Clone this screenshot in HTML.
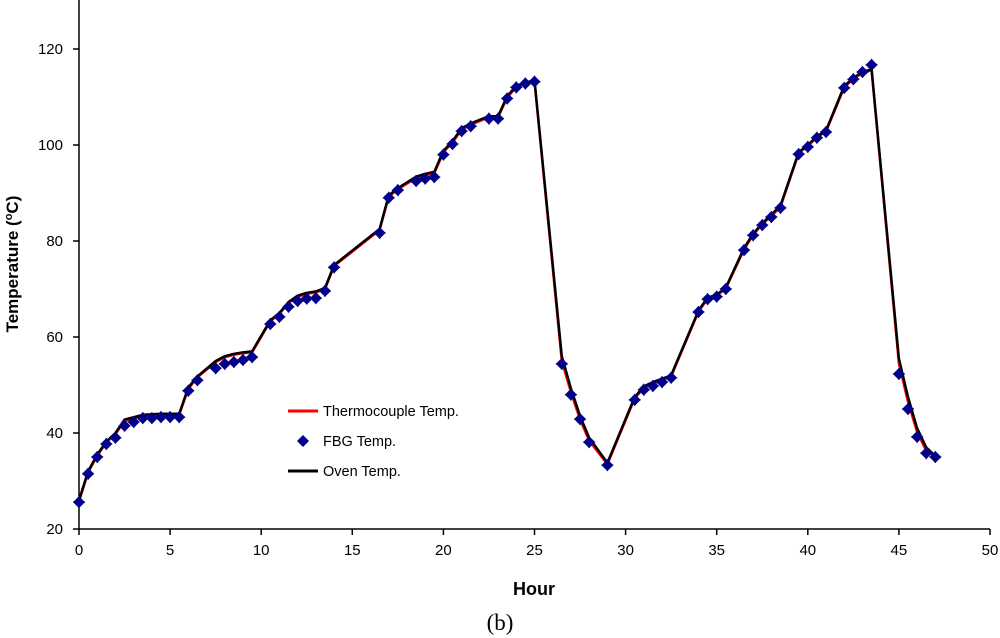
<!DOCTYPE html>
<html><head><meta charset="utf-8"><style>
body{margin:0;background:#fff;}
svg{display:block;font-family:"Liberation Sans",sans-serif;}
</style></head><body>
<svg id="chart" width="1000" height="638" viewBox="0 0 1000 638">
<g id="axes"></g>
<g id="series"></g>
<g>
<line x1="288" y1="411" x2="318" y2="411" stroke="#f00" stroke-width="3"/>
<text x="323" y="416" font-size="14.5">Thermocouple Temp.</text>
<path d="M303 435 L309 441 L303 447 L297 441 Z" fill="#00008b"/>
<text x="323" y="446" font-size="14.5">FBG Temp.</text>
<line x1="288" y1="471" x2="318" y2="471" stroke="#000" stroke-width="3"/>
<text x="323" y="476" font-size="14.5">Oven Temp.</text>
</g>
<text x="534" y="595" font-size="18" font-weight="bold" text-anchor="middle">Hour</text>
<text transform="translate(18,264) rotate(-90)" font-size="17" font-weight="bold" text-anchor="middle">Temperature (<tspan font-size="11" dy="-6">o</tspan><tspan dy="6">C)</tspan></text>
<text x="500" y="630" font-size="23" text-anchor="middle" font-family="Liberation Serif,serif">(b)</text>
</svg>
<script>
const hours = [0,0.5,1,1.5,2,2.5,3,3.5,4,4.5,5,5.5,6,6.5,7.5,8,8.5,9,9.5,10.5,11,11.5,12,12.5,13,13.5,14,16.5,17,17.5,18.5,19,19.5,20,20.5,21,21.5,22.5,23,23.5,24,24.5,25,26.5,27,27.5,28,29,30.5,31,31.5,32,32.5,34,34.5,35,35.5,36.5,37,37.5,38,38.5,39.5,40,40.5,41,42,42.5,43,43.5,45,45.5,46,46.5,47];
const fbgTemp = [25.6,31.5,35,37.7,39,41.5,42.3,43.1,43.1,43.3,43.3,43.3,48.8,51,53.5,54.4,54.8,55.2,55.8,62.7,64.2,66.3,67.5,68,68.1,69.6,74.5,81.7,89,90.6,92.5,93,93.3,98,100.2,102.9,103.9,105.5,105.5,109.7,112,112.8,113.2,54.4,48,42.9,38.1,33.3,46.9,49,49.8,50.6,51.5,65.2,67.9,68.4,70,78.1,81.2,83.3,85,86.9,98.1,99.6,101.5,102.7,111.9,113.7,115.2,116.7,52.3,45,39.2,35.8,35];
const ovenTemp = [26,32,35.5,38.2,40,42.8,43.3,43.8,43.9,44,44,44,49.5,51.8,55,56,56.5,56.8,57,63.5,65,67.3,68.6,69.2,69.5,70.2,75,82.5,89.5,91,93.4,94,94.4,98.8,100.8,103.5,104.5,106,106,110.2,112.3,113,113.5,56,49.3,43.5,39,33.8,47.5,49.7,50.6,51.3,52,65.5,68.2,68.8,70.3,78.5,81.5,83.7,85.5,87.4,98.5,100,101.8,103,112.3,114,115.2,115.8,55.5,47.5,41,37,35.2];
const thermoTemp = [25.8,31.8,35.3,38,39.8,42.5,43.1,43.6,43.7,43.8,43.8,43.8,49.2,51.6,54.8,55.8,56.3,56.6,56.8,63.3,64.8,67.1,68.4,69,69.3,70,74.8,82.3,89.2,90.8,93.1,93.7,94.1,98.5,100.5,103.2,104.2,105.8,105.8,109.9,112.1,112.8,113.3,55,48.5,42.8,38.4,33.5,47.2,49.4,50.3,51,51.8,65.3,68,68.6,70.1,78.2,81.3,83.5,85.2,87.1,98.3,99.8,101.6,102.8,112,113.8,115,115.6,54.5,46.5,40.2,36.3,35];
const xTicks = [0,5,10,15,20,25,30,35,40,45,50];
const yTicks = [20,40,60,80,100,120];

const NS='http://www.w3.org/2000/svg';
const X0=79,X1=990,Y0=529,Y1=49;
function xs(h){return X0+(h-0)/50*(X1-X0);}
function ys(t){return Y0-(t-20)/100*(Y0-Y1);}
function mk(tag,attrs,parent){const e=document.createElementNS(NS,tag);for(const k in attrs)e.setAttribute(k,attrs[k]);parent.appendChild(e);return e;}
const axes=document.getElementById('axes'), series=document.getElementById('series');

let a=mk('line',{x1:X0,y1:0,x2:X0,y2:Y0,stroke:'#000','stroke-width':1.5},axes);


a=mk('line',{x1:X0,y1:Y0,x2:X1,y2:Y0,stroke:'#000','stroke-width':1.5},axes);


xTicks.forEach(v=>{
  const t=mk('line',{x1:xs(v),y1:Y0,x2:xs(v),y2:Y0+6,stroke:'#000','stroke-width':1.5},axes);
  
  
  const l=mk('text',{x:xs(v),y:Y0+26,'font-size':15,'text-anchor':'middle'},axes);
  l.textContent=v;
  
  
});
yTicks.forEach(v=>{
  const t=mk('line',{x1:X0-6,y1:ys(v),x2:X0,y2:ys(v),stroke:'#000','stroke-width':1.5},axes);
  
  
  const l=mk('text',{x:X0-16,y:ys(v)+5,'font-size':15,'text-anchor':'end'},axes);
  l.textContent=v;
  
  
});
function pts(arr){return hours.map((h,i)=>xs(h).toFixed(1)+','+ys(arr[i]).toFixed(1)).join(' ');}
let p=mk('polyline',{points:pts(thermoTemp),fill:'none',stroke:'#f00','stroke-width':2.5,'stroke-linejoin':'round'},series);


p=mk('polyline',{points:pts(ovenTemp),fill:'none',stroke:'#000','stroke-width':2.5,'stroke-linejoin':'round'},series);


hours.forEach((h,i)=>{
  const cx=xs(h),cy=ys(fbgTemp[i]);
  const g=mk('g',{},series);
  
  
  mk('path',{d:`M${cx-6} ${cy}H${cx+6}M${cx} ${cy-6}V${cy+6}`,stroke:'#222','stroke-width':1.2},g);
  mk('path',{d:`M${cx} ${cy-6}L${cx+6} ${cy}L${cx} ${cy+6}L${cx-6} ${cy}Z`,fill:'#00008b'},g);
});
</script>
</body></html>
